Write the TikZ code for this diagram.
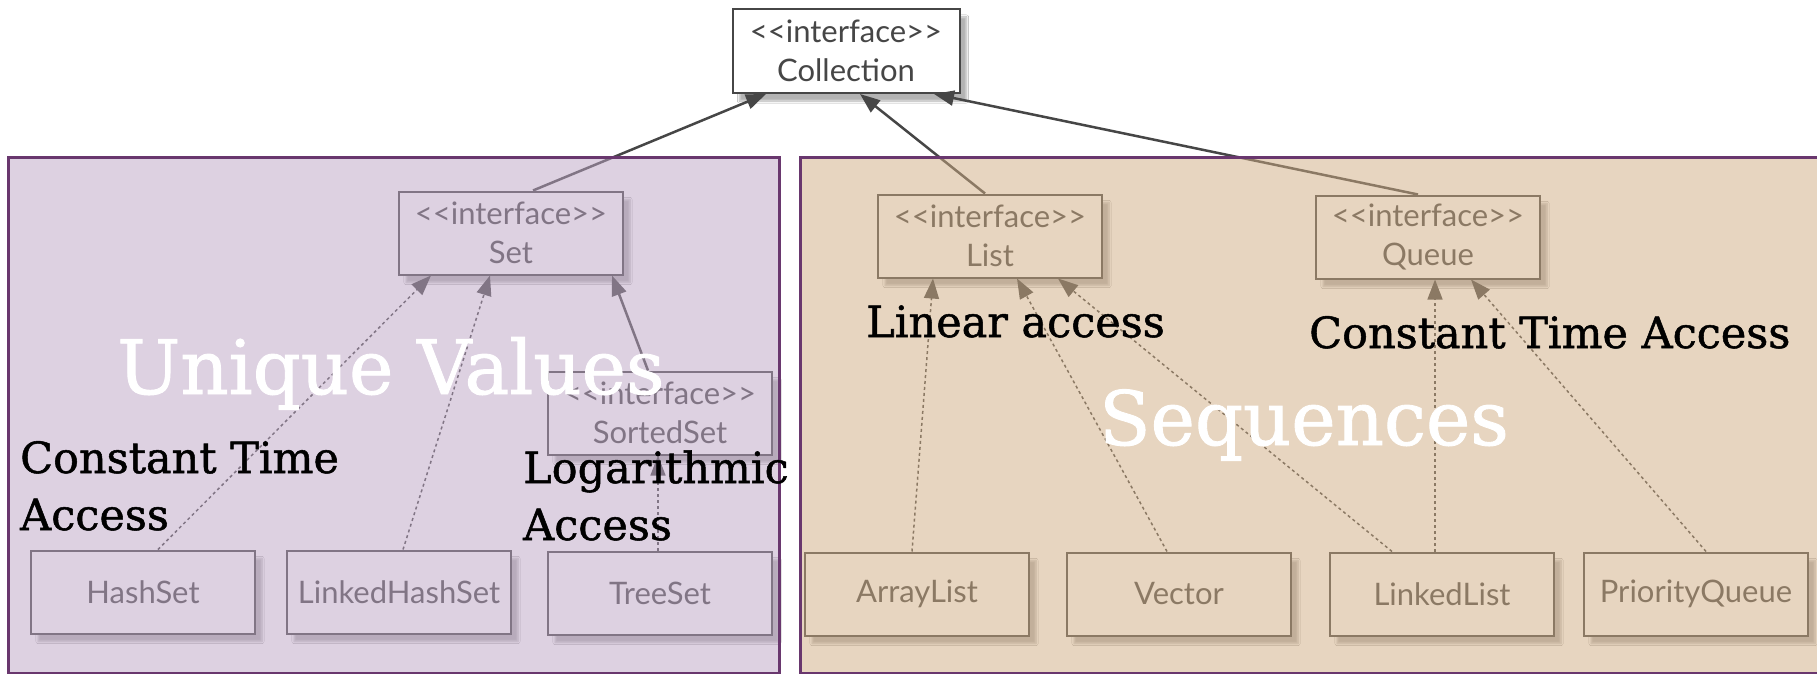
\documentclass[tikz,border=0pt]{standalone}
\usepackage{fontspec}
\setmainfont{DejaVu Serif}[FakeBold=1.2]
\newfontfamily\boxfont{Lato}
\usetikzlibrary{arrows.meta,shadows.blur}

\definecolor{setbg}{RGB}{189,165,197}
\definecolor{seqbg}{RGB}{209,173,131}
\definecolor{frame}{RGB}{105,55,110}
\definecolor{uml}{RGB}{70,70,70}
\newcommand{\iface}[1]{<{}<#1>{}>}

\begin{document}
\begin{tikzpicture}[x=1pt,y=-1pt,
  umlbox/.style={draw=uml, line width=2pt, fill=white, minimum width=224pt, minimum height=83pt,
    inner sep=0pt, align=center, text=uml, font=\boxfont\fontsize{31}{39}\selectfont,
    blur shadow={shadow xshift=7pt, shadow yshift=-8pt, shadow opacity=30, shadow blur steps=6}},
  extends/.style={draw=uml, line width=2.5pt, -{Triangle[length=20pt,width=15pt]}},
  realizes/.style={extends, line width=1.5pt, dash pattern=on 3pt off 3pt},
  panel/.style={draw=frame, line width=3pt, fill opacity=0.5},
  note/.style={font=\fontsize{43}{57}\selectfont, inner sep=0pt, align=left},
  banner/.style={text=white, font=\fontsize{75}{90}\selectfont, inner sep=0pt}]
\useasboundingbox[fill=white] (0,0) rectangle (1817,674);

%% interfaces
\node[umlbox, minimum width=227pt, minimum height=84pt] (coll) at (846,51) {\iface{interface}\\Collection};
\node[umlbox] (set) at (511,233) {\iface{interface}\\Set};
\node[umlbox] (list) at (990,236) {\iface{interface}\\List};
\node[umlbox] (queue) at (1428,237) {\iface{interface}\\Queue};
\node[umlbox] (sorted) at (660,413) {\iface{interface}\\SortedSet};

%% classes
\node[umlbox] (hash) at (143,592) {HashSet};
\node[umlbox] (lhash) at (399,592) {LinkedHashSet};
\node[umlbox] (tree) at (660,593) {TreeSet};
\node[umlbox] (alist) at (917,594) {ArrayList};
\node[umlbox] (vector) at (1179,594) {Vector};
\node[umlbox] (llist) at (1442,594) {LinkedList};
\node[umlbox] (pqueue) at (1696,594) {PriorityQueue};

\draw[extends] ([xshift=22pt]set.north) -- ([xshift=-80pt]coll.south);
\draw[extends] ([xshift=-5pt]list.north) -- ([xshift=14pt]coll.south);
\draw[extends] ([xshift=-10pt]queue.north) -- ([xshift=88pt]coll.south);
\draw[extends] ([xshift=-12pt]sorted.north) -- ([xshift=101pt]set.south);

\draw[realizes] ([xshift=15pt]hash.north) -- ([xshift=-80pt]set.south);
\draw[realizes] ([xshift=4pt]lhash.north) -- ([xshift=-21pt]set.south);
\draw[realizes] ([xshift=-2pt]tree.north) -- ([xshift=-2pt]sorted.south);
\draw[realizes] ([xshift=-5pt]alist.north) -- ([xshift=-57pt]list.south);
\draw[realizes] ([xshift=-12pt]vector.north) -- ([xshift=27pt]list.south);
\draw[realizes] ([xshift=-50pt]llist.north) -- ([xshift=68pt]list.south);
\draw[realizes] ([xshift=-7pt]llist.north) -- ([xshift=7pt]queue.south);
\draw[realizes] ([xshift=10pt]pqueue.north) -- ([xshift=43pt]queue.south);

%% tinted panels over the diagram
\draw[panel, fill=setbg] (8,157) rectangle (779,673);
\draw[panel, fill=seqbg] (800,157) rectangle (1830,673);

\node[banner, anchor=base west] (uniq) at (117,394) {Unique Values};
\node[banner, anchor=base west] (seq) at (1099,445) {Sequences};

%% two-line notes sit on their last baseline
\node[note, anchor=base west] (hashnote) at (20,530) {Constant Time\\Access};
\node[note, anchor=base west] (treenote) at (523,540) {Logarithmic\\Access};
\node[note, anchor=base west] (listnote) at (866,337) {Linear access};
\node[note, anchor=base west] (queuenote) at (1309,348) {Constant Time Access};
\end{tikzpicture}
\end{document}
